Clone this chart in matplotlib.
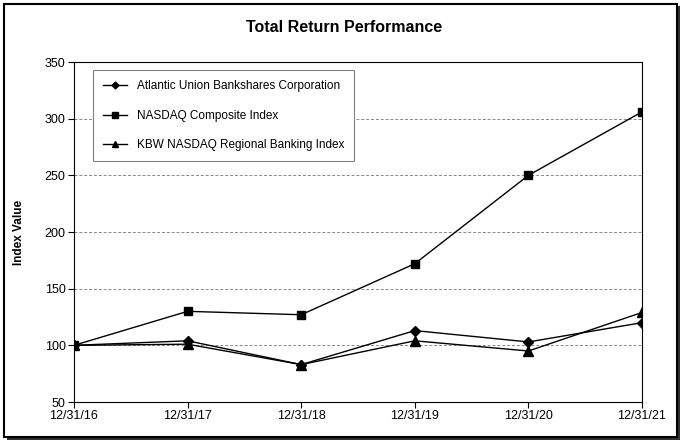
import matplotlib
matplotlib.use('Agg')
import matplotlib.pyplot as plt
from matplotlib.patches import Rectangle

plt.rcParams['font.family'] = ['Liberation Sans', 'DejaVu Sans']

dates = ['12/31/16', '12/31/17', '12/31/18', '12/31/19', '12/31/20', '12/31/21']
atlantic = [100, 104, 83, 113, 103, 120]
nasdaq = [100, 130, 127, 172, 250, 306]
kbw = [100, 101, 83, 104, 95, 129]

fig = plt.figure(figsize=(6.84, 4.48), dpi=100)

# outer frame with shadow, kept behind the axes
fig.patches.append(Rectangle((7/684, 8/448), 673/684, 434/448, transform=fig.transFigure,
                             facecolor='#303030', edgecolor='none', zorder=-3))
fig.patches.append(Rectangle((4/684, 11/448), 673/684, 433/448, transform=fig.transFigure,
                             facecolor='white', edgecolor='black', linewidth=1.5, zorder=-2))

ax = fig.add_axes([74/684, 1 - 402/448, 568/684, 340/448])
ax.set_facecolor('none')
x = list(range(len(dates)))
ax.plot(x, atlantic, color='black', lw=1, marker='D', ms=5, label='Atlantic Union Bankshares Corporation')
ax.plot(x, nasdaq, color='black', lw=1, marker='s', ms=6, label='NASDAQ Composite Index')
ax.plot(x, kbw, color='black', lw=1, marker='^', ms=7, label='KBW NASDAQ Regional Banking Index')

ax.set_xlim(0, 5)
ax.set_ylim(50, 350)
ax.set_yticks(range(50, 351, 50))
ax.set_xticks(x)
ax.set_xticklabels(dates)
ax.tick_params(labelsize=9, length=4, width=0.8, direction='out', pad=2)
for y in range(100, 301, 50):
    ax.axhline(y, color='#888888', lw=0.7, ls=(0, (3, 2)), zorder=0)
for s in ax.spines.values():
    s.set_linewidth(0.8)

ax.set_ylabel('Index Value', fontsize=8.5, fontweight='bold', labelpad=14)
fig.text(344/684, 1 - 28/448, 'Total Return Performance', ha='center', va='center',
         fontsize=11.5, fontweight='bold')

leg = ax.legend(loc='upper left', bbox_to_anchor=(19/568, 1 - 8/340), fontsize=8.5,
                fancybox=False, edgecolor='#808080', framealpha=1, handlelength=2.0,
                handletextpad=0.85, labelspacing=1.5, borderpad=0.85, borderaxespad=0,
                markerscale=0.7)
leg.get_frame().set_linewidth(0.8)

fig.savefig('out.png', dpi=100)
